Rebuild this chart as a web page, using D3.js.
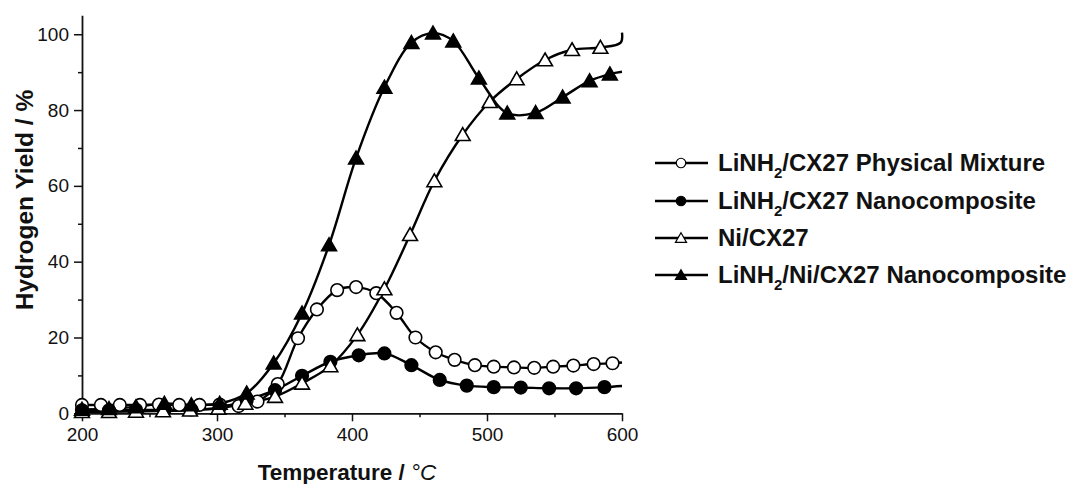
<!DOCTYPE html>
<html>
<head>
<meta charset="utf-8">
<script src="https://cdn.jsdelivr.net/npm/d3@7"></script>
<style>
  body { margin: 0; background: #fff; }
  svg { font-family: Arial, "Liberation Sans", sans-serif; }
</style>
</head>
<body>
<div id="chart"></div>
<script>
'use strict';

// temperatures (°C) and hydrogen yield (%)
let mixTemp = [200, 214, 228, 243, 257, 272, 287, 302, 316, 330, 345, 360, 374, 389, 403, 418, 433, 447, 462, 476, 491, 505, 520, 535, 549, 564, 579, 593, 600];
let mixYield = [2.2, 2.2, 2.2, 2.2, 2.3, 2.2, 2.2, 2.3, 1.9, 3.1, 7.7, 19.8, 27.4, 32.5, 33.3, 31.7, 26.5, 20.0, 16.1, 14.1, 12.7, 12.3, 12.1, 12.0, 12.3, 12.6, 13.0, 13.2, 13.4];

let nanoTemp = [200, 220, 240, 261, 281, 302, 322, 343, 363, 384, 405, 424, 444, 465, 485, 505, 525, 546, 566, 587, 600];
let nanoYield = [0.8, 0.8, 0.9, 0.9, 1.0, 1.5, 3.5, 6.1, 9.9, 13.6, 15.3, 15.8, 12.7, 8.8, 7.3, 6.9, 6.8, 6.6, 6.6, 6.9, 7.2];

let niTemp = [200, 220, 240, 260, 280, 301, 321, 343, 363, 384, 404, 424, 443, 461, 482, 502, 522, 543, 563, 584, 599, 600];
let niYield = [0.4, 0.4, 0.5, 0.6, 0.8, 1.3, 2.6, 4.4, 7.9, 12.5, 20.7, 32.8, 47.1, 61.3, 73.5, 82.2, 88.2, 93.2, 95.9, 96.5, 97.8, 100.4];

let liNiTemp = [200, 220, 240, 261, 281, 302, 322, 342, 363, 383, 403, 424, 444, 460, 475, 494, 515, 536, 556, 576, 591, 600];
let liNiYield = [1.0, 1.2, 1.7, 2.6, 2.2, 2.6, 5.3, 13.2, 26.4, 44.4, 67.3, 86.0, 97.8, 100.3, 98.2, 88.4, 79.2, 79.3, 83.4, 87.7, 89.5, 90.1];

// the last entry of each series only extends the line to 600 °C, no marker
let seriesNames = ['LiNH|2|/CX27 Physical Mixture', 'LiNH|2|/CX27 Nanocomposite', 'Ni/CX27', 'LiNH|2|/Ni/CX27 Nanocomposite'];
let seriesShapes = ['circle', 'circle', 'triangle', 'triangle'];
let seriesFilled = [false, true, false, true];
let markerCounts = [mixTemp.length - 1, nanoTemp.length - 1, niTemp.length - 2, liNiTemp.length - 1];

let xTicks = [200, 300, 400, 500, 600];
let xMinor = [250, 350, 450, 550];
let yTicks = [0, 20, 40, 60, 80, 100];
let yMinor = [10, 30, 50, 70, 90];

let series = [
	d3.zip(mixTemp, mixYield),
	d3.zip(nanoTemp, nanoYield),
	d3.zip(niTemp, niYield),
	d3.zip(liNiTemp, liNiYield)
];

let width = 1073, height = 484;
let svg = d3.select('#chart').append('svg')
	.attr('width', width)
	.attr('height', height);

let x = d3.scaleLinear().domain([200, 600]).range([82, 622]);
let y = d3.scaleLinear().domain([0, 105]).range([413.3, 15.3]);

// axes
let xAxis = svg.append('g')
	.attr('transform', `translate(0,${y(0)})`)
	.call(d3.axisBottom(x).tickValues(xTicks).tickSize(8).tickPadding(6).tickSizeOuter(0));
xAxis.append('g').call(d3.axisBottom(x).tickValues(xMinor).tickSize(4).tickFormat(''))
	.select('.domain').remove();

let yAxis = svg.append('g')
	.attr('transform', `translate(${x(200)},0)`)
	.call(d3.axisLeft(y).tickValues(yTicks).tickSize(8).tickPadding(5).tickSizeOuter(0));
yAxis.append('g').call(d3.axisLeft(y).tickValues(yMinor).tickSize(4).tickFormat(''))
	.select('.domain').remove();

svg.selectAll('.domain').attr('stroke', '#111').attr('stroke-width', 1.8);
svg.selectAll('.tick line').attr('stroke', '#111').attr('stroke-width', 1.5);
svg.selectAll('.tick text')
	.attr('font-size', 19)
	.attr('font-family', 'Arial, "Liberation Sans", sans-serif')
	.attr('fill', '#111');

// axis titles
svg.append('text')
	.attr('x', 347)
	.attr('y', 480)
	.attr('text-anchor', 'middle')
	.attr('font-size', 22.5)
	.attr('font-weight', 'bold')
	.attr('fill', '#111')
	.text('Temperature / ')
	.append('tspan')
	.attr('font-style', 'italic')
	.attr('font-weight', 'normal')
	.text('°C');

svg.append('text')
	.attr('transform', 'translate(33,200) rotate(-90)')
	.attr('text-anchor', 'middle')
	.attr('font-size', 24.5)
	.attr('font-weight', 'bold')
	.attr('fill', '#111')
	.text('Hydrogen Yield / %');

let line = d3.line()
	.x(d => x(d[0]))
	.y(d => y(d[1]))
	.curve(d3.curveCatmullRom.alpha(0.5));

let triangle = d3.symbol().type(d3.symbolTriangle).size(95);
let circle = d3.symbol().type(d3.symbolCircle).size(125);

function drawMarker(g, shape, filled) {
	g.append('path')
		.attr('d', shape === 'circle' ? circle() : triangle())
		.attr('transform', shape === 'triangle' ? 'translate(0,1.5)' : null)
		.attr('fill', filled ? '#000' : '#fff')
		.attr('stroke', '#000')
		.attr('stroke-width', 1.6);
}

series.forEach((pts, i) => {
	svg.append('path')
		.datum(pts)
		.attr('d', line)
		.attr('fill', 'none')
		.attr('stroke', '#000')
		.attr('stroke-width', 2.4);
});

series.forEach((pts, i) => {
	svg.selectAll('g.m' + i)
		.data(pts.slice(0, markerCounts[i]))
		.join('g')
		.attr('class', 'm' + i)
		.attr('transform', d => `translate(${x(d[0])},${y(d[1])})`)
		.each(function () { drawMarker(d3.select(this), seriesShapes[i], seriesFilled[i]); });
});

// legend
let legendY = [163, 201, 238, 275];
seriesNames.forEach((name, i) => {
	let g = svg.append('g').attr('transform', `translate(655,${legendY[i]})`);
	g.append('line')
		.attr('x1', 0).attr('x2', 53)
		.attr('stroke', '#000').attr('stroke-width', 2.4);
	let mg = g.append('g').attr('transform', 'translate(26,0) scale(0.75)');
	drawMarker(mg, seriesShapes[i], seriesFilled[i]);
	let t = g.append('text')
		.attr('x', 63)
		.attr('y', 8)
		.attr('font-size', 24)
		.attr('font-weight', 'bold')
		.attr('fill', '#111');
	name.split('|').forEach((part, j) => {
		let ts = t.append('tspan').text(part);
		if (j === 1) ts.attr('font-size', 15).attr('dy', 7);
		if (j === 2) ts.attr('dy', -7);
	});
});
</script>
</body>
</html>
